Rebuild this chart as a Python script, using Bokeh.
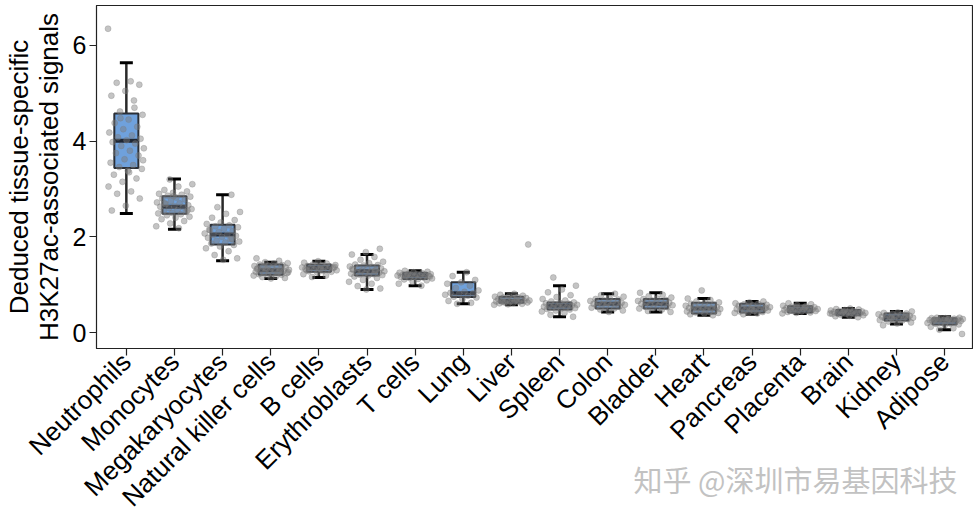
import numpy as np
from bokeh.plotting import figure
from bokeh.models import Range1d, FixedTicker, ColumnDataSource, Whisker, TeeHead
from bokeh.embed import file_html
from bokeh.resources import INLINE

categories = ["Neutrophils", "Monocytes", "Megakaryocytes", "Natural killer cells", "B cells",
              "Erythroblasts", "T cells", "Lung", "Liver", "Spleen", "Colon", "Bladder", "Heart",
              "Pancreas", "Placenta", "Brain", "Kidney", "Adipose"]

lower_whisker = [2.49, 2.16, 1.50, 1.13, 1.15, 0.90, 0.98, 0.60, 0.58, 0.33, 0.43, 0.43, 0.36, 0.38, 0.40, 0.32, 0.18, 0.06]
q1 = [3.44, 2.48, 1.84, 1.21, 1.27, 1.19, 1.12, 0.74, 0.62, 0.48, 0.50, 0.50, 0.40, 0.42, 0.42, 0.36, 0.25, 0.17]
median = [4.01, 2.63, 2.05, 1.30, 1.35, 1.28, 1.19, 0.82, 0.66, 0.56, 0.60, 0.60, 0.50, 0.50, 0.48, 0.41, 0.32, 0.25]
q3 = [4.58, 2.85, 2.25, 1.42, 1.42, 1.40, 1.25, 1.05, 0.75, 0.63, 0.70, 0.70, 0.62, 0.60, 0.55, 0.47, 0.40, 0.30]
upper_whisker = [5.64, 3.21, 2.88, 1.47, 1.49, 1.63, 1.29, 1.26, 0.81, 0.98, 0.81, 0.83, 0.71, 0.65, 0.61, 0.50, 0.44, 0.33]

pts_neutrophils = [6.35, 5.25, 5.22, 5.18, 5.05, 4.95, 4.85, 4.62, 4.55, 4.45, 4.38, 4.30, 4.25, 4.18, 4.12, 4.08, 4.05, 4.02, 3.98, 3.95, 3.90, 3.85, 3.80, 3.75, 3.70, 3.62, 3.55, 3.50, 3.46, 3.42, 3.38, 3.30, 3.22, 3.15, 3.05, 2.95, 2.90, 2.80, 2.65, 2.55, 4.70, 4.48, 3.60, 3.35]
pts_monocytes = [3.20, 3.10, 3.05, 2.98, 2.95, 2.92, 2.90, 2.88, 2.86, 2.84, 2.82, 2.80, 2.78, 2.75, 2.72, 2.70, 2.68, 2.66, 2.64, 2.63, 2.62, 2.60, 2.58, 2.56, 2.54, 2.52, 2.50, 2.49, 2.47, 2.45, 2.42, 2.40, 2.37, 2.33, 2.28, 2.22, 2.18, 2.70, 2.55, 2.85]
pts_megakaryocytes = [2.88, 2.62, 2.52, 2.48, 2.40, 2.35, 2.30, 2.27, 2.24, 2.22, 2.20, 2.17, 2.14, 2.12, 2.10, 2.07, 2.05, 2.04, 2.02, 2.00, 1.98, 1.95, 1.92, 1.90, 1.88, 1.86, 1.83, 1.80, 1.76, 1.70, 1.62, 1.55, 1.52, 2.15, 1.96]
pts_nk = [1.55, 1.50, 1.47, 1.45, 1.44, 1.42, 1.41, 1.40, 1.39, 1.38, 1.37, 1.36, 1.35, 1.34, 1.33, 1.32, 1.31, 1.30, 1.30, 1.29, 1.28, 1.27, 1.26, 1.25, 1.24, 1.23, 1.22, 1.21, 1.20, 1.19, 1.18, 1.16, 1.14, 1.13, 1.33, 1.28, 1.35, 1.26]
pts_bcells = [1.49, 1.46, 1.44, 1.42, 1.41, 1.40, 1.39, 1.38, 1.37, 1.36, 1.36, 1.35, 1.35, 1.34, 1.33, 1.32, 1.31, 1.30, 1.29, 1.28, 1.27, 1.25, 1.22, 1.19, 1.16, 1.37, 1.33, 1.30]
pts_erythroblasts = [1.75, 1.68, 1.63, 1.58, 1.52, 1.48, 1.45, 1.42, 1.41, 1.40, 1.38, 1.37, 1.35, 1.34, 1.32, 1.31, 1.30, 1.29, 1.28, 1.27, 1.26, 1.25, 1.24, 1.23, 1.22, 1.21, 1.20, 1.19, 1.17, 1.14, 1.10, 1.06, 1.02, 0.97, 0.92, 0.90, 1.33, 1.29]
pts_tcells = [1.29, 1.27, 1.26, 1.25, 1.24, 1.23, 1.22, 1.22, 1.21, 1.20, 1.20, 1.19, 1.19, 1.18, 1.18, 1.17, 1.16, 1.15, 1.14, 1.13, 1.12, 1.11, 1.09, 1.06, 1.02, 0.98, 1.21, 1.17]
pts_lung = [1.26, 1.18, 1.10, 1.05, 1.02, 0.98, 0.93, 0.88, 0.85, 0.83, 0.82, 0.81, 0.79, 0.77, 0.75, 0.73, 0.70, 0.66, 0.62, 0.60]
pts_liver = [1.84, 0.81, 0.79, 0.77, 0.76, 0.75, 0.74, 0.73, 0.72, 0.71, 0.70, 0.69, 0.68, 0.67, 0.67, 0.66, 0.66, 0.65, 0.65, 0.64, 0.63, 0.63, 0.62, 0.61, 0.60, 0.59, 0.58, 0.68, 0.64]
pts_spleen = [1.15, 0.98, 0.90, 0.84, 0.78, 0.74, 0.70, 0.67, 0.65, 0.63, 0.62, 0.61, 0.60, 0.59, 0.58, 0.57, 0.56, 0.56, 0.55, 0.54, 0.53, 0.52, 0.51, 0.50, 0.49, 0.48, 0.46, 0.44, 0.41, 0.37, 0.33]
pts_colon = [0.81, 0.78, 0.75, 0.72, 0.70, 0.69, 0.67, 0.66, 0.65, 0.63, 0.62, 0.61, 0.60, 0.60, 0.59, 0.58, 0.57, 0.56, 0.55, 0.54, 0.52, 0.50, 0.48, 0.46, 0.43]
pts_bladder = [0.83, 0.79, 0.76, 0.73, 0.71, 0.70, 0.68, 0.67, 0.66, 0.64, 0.63, 0.62, 0.61, 0.60, 0.59, 0.58, 0.57, 0.56, 0.55, 0.53, 0.51, 0.50, 0.48, 0.45, 0.43]
pts_heart = [0.88, 0.71, 0.68, 0.65, 0.63, 0.62, 0.60, 0.58, 0.57, 0.56, 0.55, 0.54, 0.53, 0.52, 0.51, 0.50, 0.50, 0.49, 0.48, 0.47, 0.46, 0.45, 0.44, 0.43, 0.42, 0.41, 0.40, 0.38, 0.36]
pts_pancreas = [0.65, 0.63, 0.61, 0.60, 0.59, 0.58, 0.57, 0.56, 0.55, 0.54, 0.53, 0.52, 0.51, 0.50, 0.50, 0.49, 0.48, 0.47, 0.46, 0.45, 0.44, 0.43, 0.42, 0.41, 0.40, 0.38, 0.52, 0.48]
pts_placenta = [0.61, 0.59, 0.57, 0.56, 0.55, 0.54, 0.53, 0.52, 0.51, 0.50, 0.50, 0.49, 0.49, 0.48, 0.48, 0.47, 0.47, 0.46, 0.45, 0.45, 0.44, 0.43, 0.42, 0.41, 0.40, 0.52, 0.47]
pts_brain = [0.50, 0.49, 0.48, 0.47, 0.46, 0.45, 0.45, 0.44, 0.43, 0.43, 0.42, 0.42, 0.41, 0.41, 0.40, 0.40, 0.39, 0.39, 0.38, 0.37, 0.36, 0.35, 0.34, 0.32, 0.44, 0.40]
pts_kidney = [0.44, 0.42, 0.41, 0.40, 0.39, 0.38, 0.37, 0.36, 0.35, 0.34, 0.33, 0.32, 0.32, 0.31, 0.30, 0.29, 0.28, 0.27, 0.26, 0.25, 0.23, 0.21, 0.19, 0.15, 0.35, 0.30]
pts_adipose = [0.31, 0.31, 0.30, 0.30, 0.29, 0.29, 0.28, 0.28, 0.27, 0.27, 0.26, 0.26, 0.25, 0.25, 0.24, 0.24, 0.23, 0.22, 0.21, 0.20, 0.19, 0.18, 0.17, 0.15, 0.12, 0.09, 0.06, -0.03, 0.28, 0.25]

all_points = [pts_neutrophils, pts_monocytes, pts_megakaryocytes, pts_nk, pts_bcells, pts_erythroblasts,
              pts_tcells, pts_lung, pts_liver, pts_spleen, pts_colon, pts_bladder, pts_heart,
              pts_pancreas, pts_placenta, pts_brain, pts_kidney, pts_adipose]

y_ticks = [0, 2, 4, 6]
watermark = "知乎 @深圳市易基因科技"

pos = list(range(1, len(categories) + 1))

p = figure(frame_width=876, frame_height=343,
           x_range=Range1d(0.38, 18.58), y_range=Range1d(-0.334, 6.835),
           output_backend="svg", toolbar_location=None,
           min_border_left=89, min_border_top=5, min_border_right=1, min_border_bottom=166)

p.background_fill_color = "white"
p.border_fill_color = "white"
p.outline_line_color = "#222222"
p.outline_line_width = 1.2
p.xgrid.visible = False
p.ygrid.visible = False

FONT = "Liberation Sans"
p.xaxis.ticker = FixedTicker(ticks=pos)
p.xaxis.major_label_overrides = {i: c for i, c in zip(pos, categories)}
p.xaxis.major_label_orientation = np.pi / 4
p.yaxis.ticker = FixedTicker(ticks=y_ticks)
for ax in (p.xaxis, p.yaxis):
    ax.axis_line_color = "#222222"
    ax.major_tick_line_color = "#222222"
    ax.major_tick_line_width = 1.2
    ax.major_tick_out = 7
    ax.major_tick_in = 0
    ax.minor_tick_line_color = None
    ax.major_label_text_font = FONT
    ax.major_label_text_color = "black"
p.xaxis.major_label_text_font_size = "26px"
p.yaxis.major_label_text_font_size = "25px"
p.yaxis.major_label_standoff = 3
p.xaxis.major_label_standoff = 2
p.yaxis.axis_label = "Deduced tissue-specific\nH3K27ac-associated signals"
p.yaxis.axis_label_text_font = FONT
p.yaxis.axis_label_text_font_size = "26px"
p.yaxis.axis_label_text_font_style = "normal"
p.yaxis.axis_label_text_color = "black"
p.yaxis.axis_label_text_line_height = 1.0
p.yaxis.axis_label_standoff = 6

# watermark rendered as the (otherwise unused) x-axis label, pulled up into the label band
pad = "\u3000" * 18
p.xaxis.axis_label = pad + watermark
p.xaxis.axis_label_text_font = "Noto Sans CJK SC"
p.xaxis.axis_label_text_font_size = "29px"
p.xaxis.axis_label_text_font_style = "normal"
p.xaxis.axis_label_text_color = "#c2c2c2"
p.xaxis.axis_label_standoff = -68

box_src = ColumnDataSource(dict(x=pos, low=lower_whisker, q1=q1, med=median, q3=q3, high=upper_whisker))

wh = Whisker(base="x", lower="low", upper="high", source=box_src, level="underlay",
             line_color="#2a2a2a", line_width=2.5,
             lower_head=TeeHead(size=13, line_color="black", line_width=3),
             upper_head=TeeHead(size=13, line_color="black", line_width=3))
p.add_layout(wh)

p.vbar(x="x", width=0.5, bottom="q1", top="q3", source=box_src,
       fill_color="#6fa1dc", line_color="#2b2f36", line_width=2)
p.rect(x="x", y="med", width=0.5, height=4, height_units="screen", source=box_src,
       fill_color="#1e2633", line_color=None)

px, py = [], []
for i, vals in enumerate(all_points):
    for j, v in enumerate(vals):
        off = (((j * 0.6180339887) + i * 0.37) % 1.0 - 0.5) * 0.76
        px.append(pos[i] + off)
        py.append(v)
p.scatter(px, py, size=6, fill_color="#7c7c7c", fill_alpha=0.45, line_color="#7c7c7c", line_alpha=0.3)

open("out.html", "w").write(file_html(p, INLINE))
